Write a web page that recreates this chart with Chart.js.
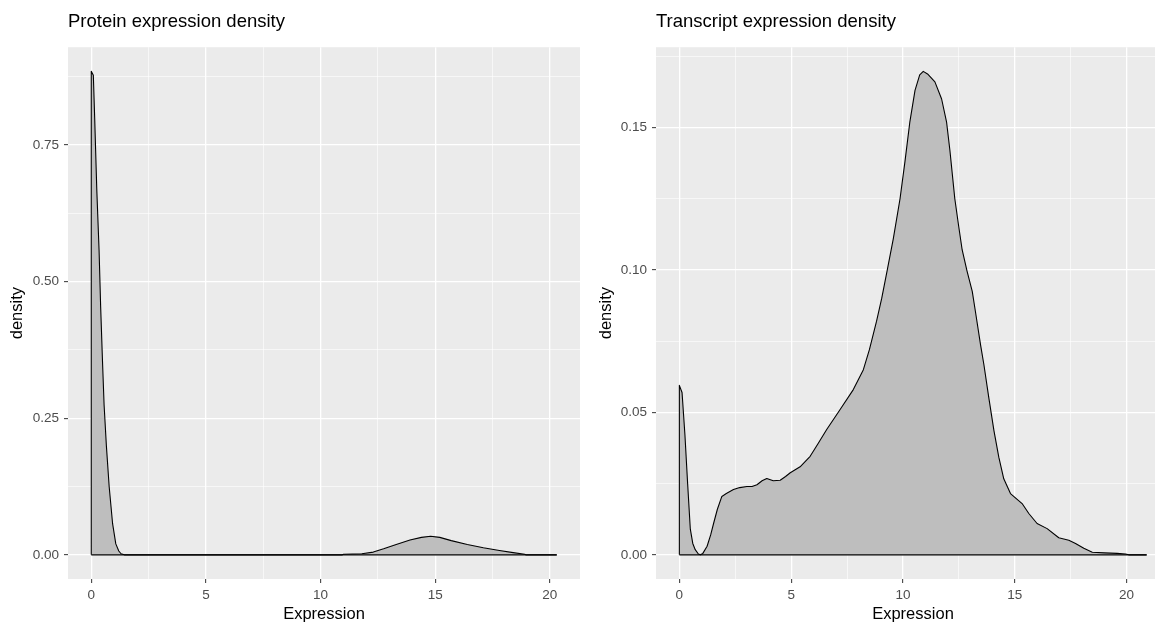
<!DOCTYPE html>
<html>
<head>
<meta charset="utf-8">
<script src="https://cdn.jsdelivr.net/npm/chart.js@4"></script>
<style>
  html, body { margin: 0; padding: 0; background: #fff; overflow: hidden; width: 1155px; height: 626px; }
  #left { position: absolute; left: 0; top: 0; }
  #right { position: absolute; left: 589px; top: 0; }
</style>
</head>
<body>
<canvas id="left" width="580" height="626"></canvas>
<canvas id="right" width="590" height="626"></canvas>
<script>
'use strict'

// protein density: tall spike at zero, small bump around 15
const proteinX = [0, 0.09, 0.15, 0.24, 0.34, 0.41, 0.49, 0.56, 0.66, 0.78, 0.93, 1.07, 1.2, 1.3, 1.44,
  10.95, 11.0, 11.8, 12.3, 12.75, 13.3, 13.9, 14.4, 14.8, 15.2, 15.7, 16.4, 17.1, 17.8, 18.4, 18.9, 18.95, 20.3];
const proteinY = [0.885, 0.878, 0.798, 0.669, 0.558, 0.453, 0.354, 0.274, 0.199, 0.125, 0.057, 0.02, 0.007, 0.002, 0,
  0, 0.001, 0.002, 0.005, 0.011, 0.019, 0.027, 0.032, 0.034, 0.032, 0.026, 0.019, 0.013, 0.008, 0.004, 0.001, 0, 0];

// transcript density
const transcriptX = [0, 0.12, 0.25, 0.37, 0.49, 0.6, 0.71, 0.85, 0.94, 1.05, 1.24, 1.4, 1.53, 1.7, 1.9, 2.1, 2.42, 2.7,
  3.02, 3.25, 3.47, 3.7, 3.91, 4.2, 4.51, 4.75, 4.96, 5.4, 5.85, 6.2, 6.59, 7.19, 7.78, 8.23, 8.5, 8.82, 9.05, 9.3,
  9.57, 9.87, 10.09, 10.31, 10.54, 10.75, 10.91, 11.1, 11.43, 11.73, 11.95, 12.1, 12.32, 12.5, 12.65, 12.87, 13.1,
  13.24, 13.47, 13.62, 13.84, 14.07, 14.29, 14.51, 14.81, 15.33, 15.63, 16.0, 16.45, 16.97, 17.42, 17.72, 18.09,
  18.47, 19.0, 19.58, 19.96, 20.1, 20.9];
const transcriptY = [0.0595, 0.057, 0.042, 0.025, 0.009, 0.004, 0.0018, 0.0003, 0, 0.0005, 0.003, 0.007, 0.011, 0.016,
  0.0205, 0.0215, 0.0229, 0.0236, 0.024, 0.024, 0.0246, 0.026, 0.0268, 0.026, 0.0262, 0.0275, 0.0288, 0.0309, 0.0346,
  0.039, 0.044, 0.051, 0.058, 0.065, 0.072, 0.082, 0.09, 0.1, 0.111, 0.125, 0.138, 0.152, 0.163, 0.1685, 0.1697,
  0.1688, 0.166, 0.16, 0.152, 0.142, 0.125, 0.115, 0.107, 0.0995, 0.0925, 0.0855, 0.0738, 0.0668, 0.0552, 0.0436,
  0.0342, 0.0267, 0.0215, 0.018, 0.0145, 0.011, 0.0092, 0.006, 0.0051, 0.004, 0.0023, 0.0009, 0.0007, 0.0005,
  0.0003, 0, 0];

// axis breaks and labels
const xBreaks = [0, 5, 10, 15, 20];
const xLabels = ['0', '5', '10', '15', '20'];
const xMinor = [2.5, 7.5, 12.5, 17.5];
const proteinBreaks = [0, 0.25, 0.5, 0.75];
const proteinLabels = ['0.00', '0.25', '0.50', '0.75'];
const proteinMinor = [0.125, 0.375, 0.625, 0.875];
const transcriptBreaks = [0, 0.05, 0.1, 0.15];
const transcriptLabels = ['0.00', '0.05', '0.10', '0.15'];
const transcriptMinor = [0.025, 0.075, 0.125, 0.175];

const FONT = '"Liberation Sans", Arial, sans-serif';

// grey panel behind the grid
const panelBg = {
  id: 'panelBg',
  beforeDraw(chart) {
    const a = chart.chartArea;
    const c = chart.ctx;
    c.save();
    c.fillStyle = '#ebebeb';
    c.fillRect(a.left, a.top, a.right - a.left, a.bottom - a.top);
    c.restore();
  }
};

function axis(breaks, labels, minor, min, max, title, fitFn, tickPad, titlePad) {
  const all = breaks.concat(minor).sort((a, b) => a - b);
  const isMajor = v => breaks.some(b => Math.abs(b - v) < 1e-9);
  return {
    type: 'linear',
    min: min,
    max: max,
    afterBuildTicks: s => { s.ticks = all.map(v => ({ value: v })); },
    afterFit: fitFn,
    border: { display: false },
    grid: {
      color: '#ffffff',
      lineWidth: c => (c.tick && isMajor(c.tick.value)) ? 1.3 : 0.6,
      tickLength: 4,
      tickWidth: 1,
      tickColor: c => (c.tick && isMajor(c.tick.value)) ? '#333333' : 'rgba(0,0,0,0)'
    },
    ticks: {
      autoSkip: false,
      maxRotation: 0,
      padding: tickPad,
      color: '#4d4d4d',
      font: { family: FONT, size: 13.5 },
      callback: v => {
        const i = breaks.findIndex(b => Math.abs(b - v) < 1e-9);
        return i >= 0 ? labels[i] : '';
      }
    },
    title: {
      display: true,
      text: title,
      color: '#000',
      font: { family: FONT, size: 16.5 },
      padding: titlePad
    }
  };
}

function densityChart(id, title, xs, ys, yBreaks, yLabels, yMinor, yAxisWidth, padRight) {
  const pts = xs.map((x, i) => ({ x: x, y: ys[i] }));
  const xMax = Math.max(...xs);
  const yMax = Math.max(...ys);
  // outline closes down to the baseline at both ends
  const outline = [{ x: xs[0], y: 0 }].concat(pts, [{ x: xMax, y: 0 }]);

  return new Chart(document.getElementById(id), {
    type: 'line',
    data: {
      datasets: [{
        data: outline,
        fill: 'origin',
        backgroundColor: '#bebebe',
        borderColor: '#000',
        borderWidth: 1.1,
        borderJoinStyle: 'round',
        pointRadius: 0,
        tension: 0,
        order: 1
      }, {
        // baseline under the whole curve, drawn on top of the fill
        data: [{ x: xs[0], y: 0 }, { x: xMax, y: 0 }],
        fill: false,
        borderColor: '#000',
        borderWidth: 1.1,
        pointRadius: 0,
        order: 0
      }]
    },
    options: {
      responsive: false,
      animation: false,
      events: [],
      layout: { padding: { top: 11, right: padRight, left: 0, bottom: 0 } },
      plugins: {
        legend: { display: false },
        tooltip: { enabled: false },
        title: {
          display: true,
          text: title,
          align: 'start',
          fullSize: false,
          color: '#000',
          font: { family: FONT, size: 18.5, weight: 'normal' },
          padding: { top: 0, bottom: 14 }
        }
      },
      scales: {
        x: axis(xBreaks, xLabels, xMinor, -xMax * 0.05, xMax * 1.05, 'Expression',
          s => { s.height = 47; }, 4, { top: 0, bottom: 2 }),
        y: axis(yBreaks, yLabels, yMinor, -yMax * 0.05, yMax * 1.05, 'density',
          s => { s.width = yAxisWidth; }, 5, { top: 8, bottom: 0 })
      }
    },
    plugins: [panelBg]
  });
}

densityChart('left', 'Protein expression density', proteinX, proteinY,
  proteinBreaks, proteinLabels, proteinMinor, 68, 0);
densityChart('right', 'Transcript expression density', transcriptX, transcriptY,
  transcriptBreaks, transcriptLabels, transcriptMinor, 67, 9);
</script>
</body>
</html>
